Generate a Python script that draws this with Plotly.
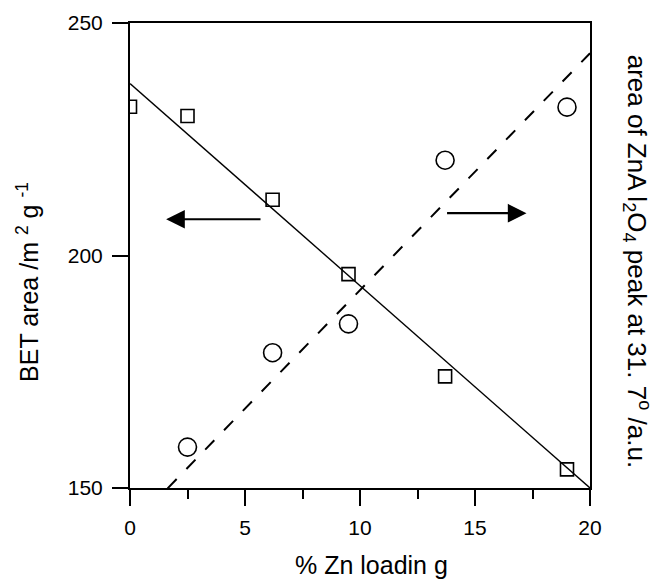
import numpy as np
import plotly.graph_objects as go

# BET surface area vs. Zn loading (left axis)
zn_loading_bet = [0.0, 2.5, 6.2, 9.5, 13.7, 19.0]
bet_area = [232.0, 230.0, 212.0, 196.0, 174.0, 154.0]

# ZnAl2O4 XRD peak area vs. Zn loading (right axis, arbitrary units)
zn_loading_xrd = [2.5, 6.2, 9.5, 13.7, 19.0]
spinel_peak_area = [8.8, 29.1, 35.3, 70.5, 81.9]

# Linear trend lines: [slope, intercept]
bet_trend = [-4.35, 237.0]
xrd_trend = [5.095, -8.41]
trend_x = [0.0, 20.0]

x_ticks = [0, 5, 10, 15, 20]
x_minor_ticks = [2.5, 7.5, 12.5, 17.5]
y_ticks = [150, 200, 250]

FONT = "Arial, 'Liberation Sans', sans-serif"

fig = go.Figure()

fig.add_trace(go.Scatter(
    x=trend_x, y=np.polyval(bet_trend, trend_x),
    mode="lines", line=dict(color="black", width=1.4),
    showlegend=False, hoverinfo="skip",
))
fig.add_trace(go.Scatter(
    x=trend_x, y=np.polyval(xrd_trend, trend_x), yaxis="y2",
    mode="lines", line=dict(color="black", width=2, dash="13px,14px"),
    showlegend=False, hoverinfo="skip",
))
fig.add_trace(go.Scatter(
    x=zn_loading_bet, y=bet_area, mode="markers",
    marker=dict(symbol="square-open", size=13, color="black",
                line=dict(width=1.6, color="black")),
    showlegend=False,
))
fig.add_trace(go.Scatter(
    x=zn_loading_xrd, y=spinel_peak_area, yaxis="y2", mode="markers",
    marker=dict(symbol="circle-open", size=18, color="black",
                line=dict(width=1.6, color="black")),
    showlegend=False,
))

# Direction arrows pointing to each series' axis
for head_x, tail_x, arrow_y in [(1.57, 5.74, 207.8), (17.24, 13.72, 209.1)]:
    fig.add_annotation(x=head_x, y=arrow_y, ax=tail_x, ay=arrow_y,
                       xref="x", yref="y", axref="x", ayref="y",
                       text="", showarrow=True, arrowhead=2, arrowsize=1.7,
                       arrowwidth=2.2, arrowcolor="black", standoff=0)

# Axis titles
fig.add_annotation(text="% Zn loadin g", xref="paper", yref="paper",
                   x=0.526, y=-0.165, xanchor="center", yanchor="middle",
                   showarrow=False, font=dict(family=FONT, size=25, color="black"))
fig.add_annotation(text="BET area /m <sup>2</sup> g <sup>-1</sup>",
                   xref="paper", yref="paper", x=-0.222, y=0.443,
                   xanchor="center", yanchor="middle", textangle=-90,
                   showarrow=False, font=dict(family=FONT, size=25, color="black"))
fig.add_annotation(text="area of ZnA l<sub>2</sub>O<sub>4</sub> peak at 31. 7<sup>o</sup> /a.u.",
                   xref="paper", yref="paper", x=1.104, y=0.487,
                   xanchor="center", yanchor="middle", textangle=90,
                   showarrow=False, font=dict(family=FONT, size=26, color="black"))

fig.update_layout(
    width=656, height=579,
    margin=dict(l=130, r=66, t=23, b=91),
    paper_bgcolor="white", plot_bgcolor="white",
    font=dict(family=FONT, size=21, color="black"),
    xaxis=dict(
        range=[0, 20], tickmode="array", tickvals=x_ticks, ticks="outside",
        ticklen=16, tickwidth=2, tickcolor="black", showline=True,
        linewidth=2, linecolor="black", mirror=True, showgrid=False,
        zeroline=False,
        minor=dict(tickmode="array", tickvals=x_minor_ticks, ticks="outside",
                   ticklen=9, tickwidth=2, tickcolor="black", showgrid=False),
        tickfont=dict(size=21), ticklabelstandoff=4,
    ),
    yaxis=dict(
        range=[150, 250], tickmode="array", tickvals=y_ticks, ticks="outside",
        ticklen=16, tickwidth=2, tickcolor="black", showline=True,
        linewidth=2, linecolor="black", showgrid=False, zeroline=False,
        tickfont=dict(size=21), ticklabelstandoff=5,
    ),
    yaxis2=dict(
        range=[0, 100], overlaying="y", side="right", showline=True,
        linewidth=2, linecolor="black", ticks="", showticklabels=False,
        showgrid=False, zeroline=False,
    ),
)

fig.write_html("out.html")
